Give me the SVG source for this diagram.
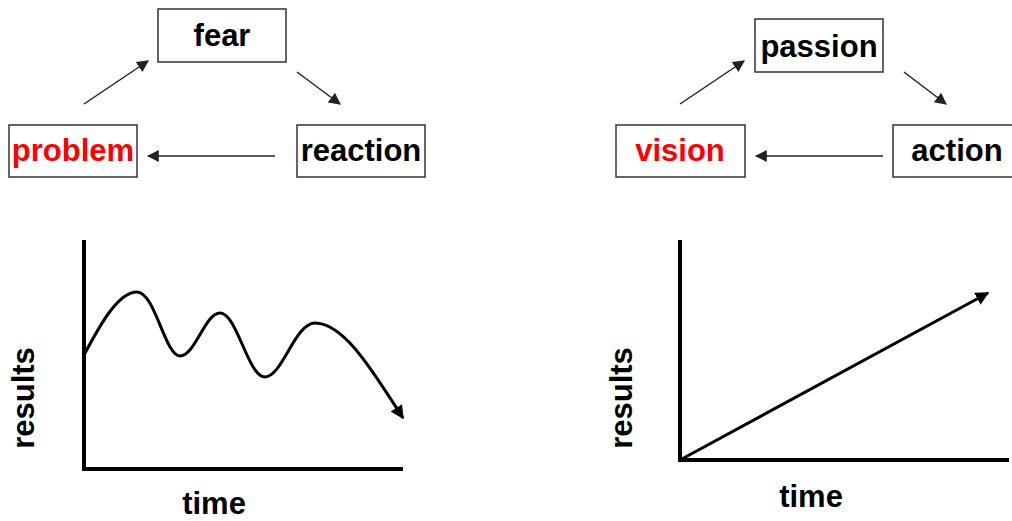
<svg xmlns="http://www.w3.org/2000/svg" width="1012" height="521" viewBox="0 0 1012 521">
<style>
.box{fill:#fff;stroke:#333;stroke-width:1.5}
.t{font-family:"Liberation Sans",Arial,sans-serif;font-weight:bold;font-size:31px;fill:#000;text-anchor:middle}
.red{fill:#ff0000}
.c{stroke:#222;stroke-width:1.5;fill:none}
.ax{stroke:#000;stroke-width:4;fill:none}
.cv{stroke:#000;stroke-width:3;fill:none}
</style>
<defs>
<marker id="ah" viewBox="0 0 10 10" refX="9" refY="5" markerWidth="8" markerHeight="8" markerUnits="strokeWidth" orient="auto"><path d="M0,0 L10,5 L0,10 z" fill="#222"/></marker>
<marker id="ah2" viewBox="0 0 10 10" refX="9" refY="5" markerWidth="4.5" markerHeight="4.5" markerUnits="strokeWidth" orient="auto"><path d="M0,0 L10,5 L0,10 z" fill="#000"/></marker>
</defs>
<rect width="1012" height="521" fill="#fff"/>
<g id="fear"><rect class="box" x="158" y="9" width="128" height="53"/><text class="t" x="222" y="46">fear</text></g>
<g id="problem"><rect class="box" x="9" y="125" width="128" height="52"/><text class="t red" x="73" y="161">problem</text></g>
<g id="reaction"><rect class="box" x="297" y="125" width="128" height="52"/><text class="t" x="361" y="161">reaction</text></g>
<g id="passion"><rect class="box" x="755" y="19" width="128" height="53"/><text class="t" x="819" y="57">passion</text></g>
<g id="vision"><rect class="box" x="616" y="125" width="129" height="52"/><text class="t red" x="680" y="161">vision</text></g>
<g id="action"><rect class="box" x="893" y="125" width="125" height="52"/><text class="t" x="957" y="161">action</text></g>
<g id="connectors">
<line class="c" x1="84" y1="104" x2="148" y2="61" marker-end="url(#ah)"/>
<line class="c" x1="297" y1="72" x2="340" y2="104" marker-end="url(#ah)"/>
<line class="c" x1="275" y1="156" x2="148" y2="156" marker-end="url(#ah)"/>
<line class="c" x1="680" y1="104" x2="744" y2="61" marker-end="url(#ah)"/>
<line class="c" x1="904" y1="72" x2="946" y2="104" marker-end="url(#ah)"/>
<line class="c" x1="883" y1="156" x2="756" y2="156" marker-end="url(#ah)"/>
</g>
<g id="chart-left">
<path class="ax" d="M84,240 L84,469 L403,469"/>
<path class="cv" d="M84,355 C100,325 118,292 137,292 C155,292 165,356 180,356 C195,356 205,313 220,313 C237,313 248,377 265,377 C282,377 295,323 315,323 C345,323 375,375 403,418" marker-end="url(#ah2)"/>
<text class="t" transform="translate(34,398) rotate(-90)">results</text>
<text class="t" x="214" y="514">time</text>
</g>
<g id="chart-right">
<path class="ax" d="M680,240 L680,460 L1009,460"/>
<line class="cv" x1="680" y1="460" x2="988" y2="293" marker-end="url(#ah2)"/>
<text class="t" transform="translate(632,398) rotate(-90)">results</text>
<text class="t" x="811" y="507">time</text>
</g>
</svg>
